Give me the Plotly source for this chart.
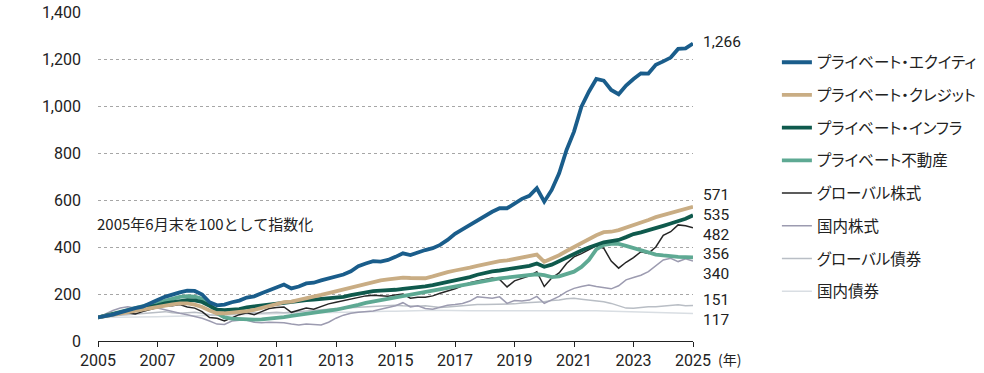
import plotly.graph_objects as go

# Quarterly observations, first point = 2005 (index base 100)
start_year = 2005
n_points = 81
x_vals = [start_year + i * 0.25 for i in range(n_points)]

names = ["プライベート・エクイティ", "プライベート・クレジット", "プライベート・インフラ",
         "プライベート不動産", "グローバル株式", "国内株式", "グローバル債券", "国内債券"]

private_equity = [
    100, 105, 112, 122, 132, 140, 146, 158, 174, 188, 199, 207, 214, 213, 198, 165,
    152, 155, 165, 172, 185, 190, 203, 215, 228, 240, 224, 232, 245, 248, 258, 266,
    275, 283, 297, 318, 330, 340, 338, 345, 358, 373, 366, 378, 387, 395, 409, 430,
    456, 475, 494, 515, 532, 550, 565, 565, 585, 605, 618, 650, 593, 643, 714, 813,
    891, 997, 1061, 1115, 1108, 1068, 1050, 1087, 1115, 1139, 1138, 1175, 1190, 1206, 1243, 1245,
    1266]
private_credit = [
    100, 106, 112, 118, 124, 130, 136, 140, 145, 150, 156, 160, 160, 155, 145, 130,
    118, 118, 120, 123, 127, 132, 140, 148, 158, 165, 168, 174, 180, 188, 196, 204,
    212, 222, 230, 238, 245, 252, 258, 262, 266, 270, 268, 266, 267, 275, 285, 293,
    300, 305, 312, 320, 328, 335, 340, 343, 350, 356, 360, 368, 337, 350, 365, 383,
    400, 418, 435, 450, 463, 465, 472, 482, 492, 503, 515, 527, 536, 546, 556, 564,
    571]
private_infra = [
    100, 108, 115, 122, 128, 135, 140, 146, 152, 160, 166, 172, 174, 173, 166, 150,
    133, 131, 133, 136, 143, 147, 152, 157, 161, 165, 168, 170, 174, 176, 178, 180,
    182, 188, 195, 202, 208, 212, 214, 215, 218, 222, 225, 228, 232, 238, 244, 250,
    256, 264, 272, 282, 290, 296, 300, 305, 310, 314, 320, 330, 316, 325, 340, 358,
    372, 385, 398, 410, 420, 425, 430, 442, 455, 462, 470, 478, 490, 500, 508, 520,
    535]
private_real_estate = [
    100, 108, 118, 128, 135, 142, 150, 156, 162, 172, 182, 188, 191, 189, 180, 155,
    118, 100, 95, 93, 92, 91, 92, 94, 97, 102, 107, 112, 117, 121, 125, 129,
    133, 139, 146, 154, 162, 168, 174, 180, 186, 192, 198, 202, 206, 212, 218, 224,
    230, 238, 245, 252, 258, 263, 266, 270, 273, 277, 280, 284, 280, 272, 275, 285,
    295, 315, 345, 390, 409, 413, 413, 405, 395, 387, 378, 368, 364, 360, 358, 357,
    356]
global_equity = [
    100, 103, 110, 118, 120, 115, 125, 135, 142, 150, 150, 155, 145, 140, 125, 100,
    97, 85, 100, 112, 120, 112, 125, 138, 143, 145, 122, 132, 140, 135, 148, 158,
    165, 172, 180, 188, 192, 195, 193, 190, 196, 200, 182, 186, 186, 192, 203, 212,
    222, 235, 248, 255, 262, 268, 262, 230, 256, 265, 277, 295, 232, 268, 290, 330,
    358, 372, 387, 405, 395, 340, 310, 335, 355, 380, 373, 400, 450, 465, 494, 490,
    482]
domestic_equity = [
    100, 115, 130, 140, 146, 140, 142, 145, 140, 132, 125, 118, 112, 105, 97, 85,
    72, 70, 85, 88, 88, 80, 78, 80, 80, 78, 72, 68, 72, 70, 68, 80,
    97, 110, 118, 122, 125, 128, 135, 142, 150, 163, 145, 150, 138, 135, 145, 152,
    155, 160, 170, 188, 185, 182, 188, 160, 172, 170, 174, 190, 160, 175, 190, 210,
    224, 232, 238, 232, 228, 222, 235, 260, 270, 280, 295, 320, 345, 352, 338, 350,
    340]
global_bonds = [
    100, 104, 108, 110, 112, 115, 118, 120, 122, 125, 120, 118, 120, 122, 118, 112,
    110, 112, 115, 118, 118, 120, 118, 120, 122, 120, 122, 125, 128, 130, 132, 135,
    138, 140, 142, 145, 147, 148, 150, 152, 152, 150, 148, 148, 150, 145, 143, 145,
    148, 150, 152, 155, 155, 156, 158, 156, 158, 162, 163, 165, 167, 172, 174, 180,
    182, 178, 174, 172, 167, 160, 150, 140, 139, 144, 146, 146, 148, 153, 154, 150,
    151]
domestic_bonds = [
    100, 100, 101, 101, 101, 102, 102, 103, 103, 104, 105, 106, 106, 107, 108, 109,
    110, 110, 111, 112, 113, 114, 115, 115, 116, 117, 118, 118, 119, 120, 121, 121,
    122, 122, 123, 123, 124, 125, 126, 127, 127, 127, 128, 128, 130, 131, 130, 129,
    129, 129, 129, 129, 129, 130, 130, 130, 131, 132, 132, 131, 130, 130, 130, 130,
    130, 130, 129, 129, 128, 127, 126, 125, 125, 124, 123, 122, 121, 120, 119, 118,
    117]

series = [private_equity, private_credit, private_infra, private_real_estate,
          global_equity, domestic_equity, global_bonds, domestic_bonds]
colors = ["#1a5d8b", "#c9ad84", "#0f5a4d", "#5ea993", "#262626", "#9c9bb0", "#b9bec5", "#d9dee3"]
widths = [3.8, 3.8, 3.8, 3.8, 1.5, 1.5, 1.5, 1.5]

# vertical pixel nudges for the end labels (same order as series) so they do not collide
label_shift = [1.5, 11.8, 0.3, 3.3, -7.3, -12.9, 5.5, -6.5]

y_ticks = [0, 200, 400, 600, 800, 1000, 1200, 1400]
x_ticks = list(range(2005, 2026, 2))
note_text = "2005年6月末を100として指数化"
note_level = 498

fig = go.Figure()
# draw the light series first so the private series sit on top
for i in reversed(range(len(series))):
    fig.add_trace(go.Scatter(
        x=x_vals, y=series[i], mode="lines", name=names[i],
        legendgroup=names[i], legendrank=i + 1,
        line=dict(color=colors[i], width=widths[i]),
        hoverinfo="skip"))

FONT = "Roboto, 'Noto Sans CJK JP', sans-serif"
JFONT = "'Noto Sans CJK JP', sans-serif"

for i, s in enumerate(series):
    fig.add_annotation(
        x=x_vals[-1], y=s[-1], xref="x", yref="y",
        text=f"{s[-1]:,}", showarrow=False, xanchor="left", yanchor="middle",
        xshift=9, yshift=label_shift[i], borderpad=0,
        font=dict(family=FONT, size=15.5, color="#222"))

fig.add_annotation(
    x=0, y=note_level, xref="paper", yref="y", text=note_text,
    showarrow=False, xanchor="left", yanchor="middle", xshift=-3,
    font=dict(family=JFONT, size=15, color="#222"))
fig.add_annotation(
    x=1, y=0, xref="paper", yref="paper", text="(年)",
    showarrow=False, xanchor="left", yanchor="top", xshift=23, yshift=-6,
    font=dict(family=JFONT, size=14, color="#222"))

fig.update_layout(
    width=984, height=373,
    margin=dict(l=98, r=291, t=12, b=32, autoexpand=False),
    paper_bgcolor="white", plot_bgcolor="white",
    showlegend=True,
    legend=dict(x=1.141, y=0.8976, xanchor="left", yanchor="top",
                font=dict(family=JFONT, size=15.5, color="#222"),
                tracegroupgap=9.55, bgcolor="rgba(0,0,0,0)", itemwidth=30),
    xaxis=dict(range=[2005, 2025], tickvals=x_ticks, ticktext=[str(v) for v in x_ticks],
               showgrid=False, zeroline=False, showline=True, linecolor="#222", linewidth=1,
               ticks="outside", ticklen=5, tickcolor="#222",
               tickfont=dict(family=FONT, size=16, color="#222")),
    yaxis=dict(range=[0, 1400], tickvals=y_ticks, tickformat=",",
               showgrid=True, gridcolor="#a6a6a6", griddash="3px,3px", gridwidth=1,
               zeroline=False, showline=False, ticks="", ticklabelstandoff=16,
               tickfont=dict(family=FONT, size=16, color="#222")),
)

post = """
document.body.style.margin = '0';
document.body.style.padding = '0';
var st = document.createElement('style');
st.textContent = 'body{margin:0;} .legendtext { font-feature-settings: "palt" 1; }';
document.head.appendChild(st);
"""
fig.write_html("out.html", post_script=post, config={"displayModeBar": False})
